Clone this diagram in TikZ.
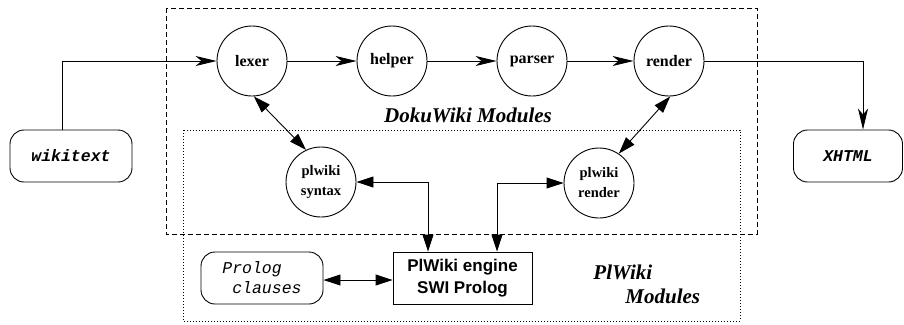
\documentclass[tikz,border=0pt]{standalone}
\usepackage{fontspec}
\setmainfont{Liberation Serif}
\newfontfamily\hsans{Liberation Sans}
\newfontfamily\cmono{Liberation Mono}
\usetikzlibrary{arrows.meta}
\begin{document}
\begin{tikzpicture}[x=1pt,y=-1pt, line width=0.9pt,
 modcirc/.style={circle, draw, minimum size=70pt, inner sep=0pt, font=\fontsize{16}{18}\selectfont\bfseries},
 smallcirc/.style={circle, draw, minimum size=70pt, inner sep=0pt, align=center, font=\fontsize{14.5}{20}\selectfont\bfseries},
 iobox/.style={draw, rounded corners=14pt, minimum width=122pt, minimum height=52pt, inner sep=0pt, font=\fontsize{16.5}{20}\selectfont\cmono\bfseries\itshape},
 enginebox/.style={draw, minimum width=139pt, minimum height=52pt, inner sep=0pt, align=center, font=\fontsize{17}{22}\selectfont\hsans\bfseries},
 flow/.style={-{Stealth[length=21pt,width=10pt,inset=6pt]}},
 both/.style={{Triangle[length=17pt,width=11pt]}-{Triangle[length=17pt,width=11pt]}},
 grouplabel/.style={font=\fontsize{21}{24}\selectfont\bfseries\itshape, inner sep=0pt},
 dashbox/.style={line width=0.8pt, dash pattern=on 5pt off 3pt},
 dotbox/.style={line width=0.8pt, dash pattern=on 0.8pt off 2.2pt}
]
\useasboundingbox (0,0) rectangle (904,324);
% module frames
\draw[dashbox] (166,8) rectangle (757,234);
\draw[dotbox] (183,130) rectangle (740,321);

% nodes
\node[iobox] (wiki) at (71,156) {wikitext};
\node[iobox, minimum width=109pt] (xhtml) at (848,156) {XHTML};
\node[modcirc] (lexer) at (252,61) {lexer};
\node[modcirc] (helper) at (392,61) {helper};
\node[modcirc] (parser) at (532,61) {parser};
\node[modcirc] (render) at (669,61) {render};
\node[smallcirc] (syn) at (321,182) {plwiki\\syntax};
\node[smallcirc] (prend) at (599,183) {plwiki\\render};
\node[enginebox] (eng) at (462.5,278) {PlWiki engine\\SWI Prolog};
\node[iobox, font=\fontsize{16.5}{20}\selectfont\cmono\itshape, align=left] (prolog) at (262,278) {Prolog\\~clauses};

% labels
\node[grouplabel, anchor=base] (dokulbl) at (468,122) {DokuWiki Modules};
\node[grouplabel, anchor=base west] (pllbl) at (593,279) {PlWiki};
\node[grouplabel, anchor=base west] (modlbl) at (625,303) {Modules};

% connectors
\draw[flow] ([xshift=-9pt]wiki.north) |- (lexer.west);
\draw[flow] (lexer) -- (helper);
\draw[flow] (helper) -- (parser);
\draw[flow] (parser) -- (render);
\draw[flow] (render.east) -| ([xshift=15pt]xhtml.north);
\draw[both] (lexer.-87) -- (syn.115);
\draw[both] (render.-88) -- (prend.56);
\draw[both] (syn.east) -| ([xshift=-34.5pt]eng.north);
\draw[both] (prend.west) -| ([xshift=34.5pt]eng.north);
\draw[both] ([yshift=-2pt]prolog.east) -- ([yshift=-2pt]eng.west);
\end{tikzpicture}
\end{document}
